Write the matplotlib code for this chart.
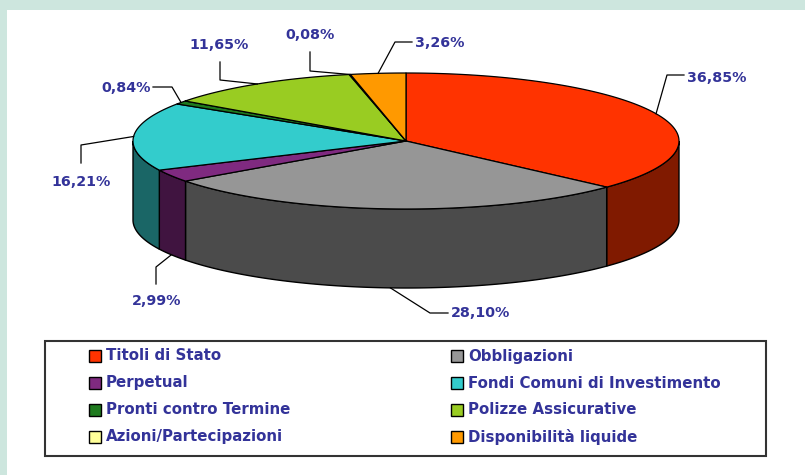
import numpy as np
import matplotlib
matplotlib.use("Agg")
import matplotlib.pyplot as plt
from matplotlib.patches import Polygon, Rectangle

# ---- data ----
categories = ["Titoli di Stato", "Obbligazioni", "Perpetual", "Fondi Comuni di Investimento",
              "Pronti contro Termine", "Polizze Assicurative", "Azioni/Partecipazioni",
              "Disponibilità liquide"]
values = [36.85, 28.10, 2.99, 16.21, 0.84, 11.65, 0.08, 3.26]
value_labels = ["36,85%", "28,10%", "2,99%", "16,21%", "0,84%", "11,65%", "0,08%", "3,26%"]
top_colors = ["#FF3300", "#969696", "#7F2A80", "#33CCCC", "#1E7A1E", "#99CC22", "#FFFF99", "#FF9900"]
side_colors = ["#801A00", "#4B4B4B", "#401440", "#1A6666", "#0F3D0F", "#4D6611", "#80804D", "#804D00"]
legend_order = [0, 1, 2, 3, 4, 5, 6, 7]

# ---- layout (pixel space) ----
W, H = 805, 475
cx, cy, a, b, depth = 406, 141, 273, 68, 79
label_color = "#333399"

fig = plt.figure(figsize=(W / 100, H / 100), dpi=100, facecolor="#CDE6DE")
ax = fig.add_axes([0, 0, 1, 1])
ax.set_xlim(0, W)
ax.set_ylim(H, 0)
ax.axis("off")
ax.add_patch(Rectangle((7, 10), W, H, facecolor="white", edgecolor="none", zorder=0))

total = sum(values)
fracs = np.array(values) / total
starts = np.concatenate([[0], np.cumsum(fracs)[:-1]]) * 360
ends = np.cumsum(fracs) * 360


def pt(theta_deg, dz=0.0):
    t = np.radians(theta_deg)
    return cx + a * np.sin(t), cy - b * np.cos(t) + dz


def arc(t0, t1, dz=0.0, n=None):
    if n is None:
        n = max(2, int(abs(t1 - t0) * 2) + 2)
    ts = np.linspace(t0, t1, n)
    xs, ys = pt(ts, dz)
    return np.column_stack([xs, ys])


# side faces (visible front half: 90..270 deg)
for i in range(len(values)):
    s0, s1 = max(starts[i], 90), min(ends[i], 270)
    if s1 <= s0:
        continue
    top = arc(s0, s1)
    bot = arc(s1, s0, depth)
    ax.add_patch(Polygon(np.vstack([top, bot]), closed=True, facecolor=side_colors[i],
                         edgecolor="black", lw=1.0, zorder=2))

# top faces
for i in range(len(values)):
    pts = np.vstack([[cx, cy], arc(starts[i], ends[i])])
    ax.add_patch(Polygon(pts, closed=True, facecolor=top_colors[i], edgecolor="black",
                         lw=0.9, zorder=3, joinstyle="round"))

# labels with leader lines
label_layout = [
    ([(667, 75), (684, 75)], (687, 78, "left")),
    ([(430, 313), (448, 313)], (451, 313, "left")),
    ([(156, 267), (156, 284)], (157, 301, "center")),
    ([(81, 145), (81, 163)], (81, 182, "center")),
    ([(172, 87), (153, 87)], (151, 88, "right")),
    ([(220, 80), (220, 62)], (219, 45, "center")),
    ([(310, 71), (310, 52)], (310, 35, "center")),
    ([(395, 42), (412, 42)], (415, 43, "left")),
]
for i in range(len(values)):
    mid = (starts[i] + ends[i]) / 2
    front = 90 < mid < 270
    ax_, ay_ = pt(mid, depth if front else 0)
    elbow, (tx, ty, ha) = label_layout[i]
    xs = [ax_] + [p[0] for p in elbow]
    ys = [ay_] + [p[1] for p in elbow]
    ax.plot(xs, ys, color="black", lw=0.9, zorder=4)
    ax.text(tx, ty, value_labels[i], color=label_color, fontsize=10.3, fontweight="bold",
            ha=ha, va="center", family="DejaVu Sans", zorder=5)

# legend box
ax.add_patch(Rectangle((45, 341), 721, 115, facecolor="white", edgecolor="#333333", lw=1.5, zorder=1))
col_x = [89, 451]
row_y = [356, 383, 410, 437]
for k, idx in enumerate(legend_order):
    c = k % 2
    r = k // 2
    x0 = col_x[c]
    y0 = row_y[r]
    ax.add_patch(Rectangle((x0, y0 - 6), 12, 12, facecolor=top_colors[idx], edgecolor="black",
                           lw=1.0, zorder=3))
    ax.text(x0 + 17, y0, categories[idx], color=label_color, fontsize=10.8, fontweight="bold",
            ha="left", va="center", family="DejaVu Sans", zorder=3)

fig.savefig("out.png", dpi=100, facecolor=fig.get_facecolor())
